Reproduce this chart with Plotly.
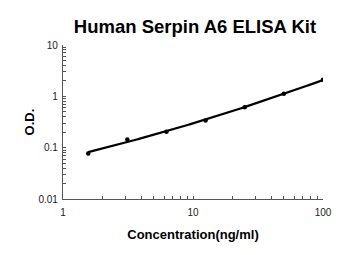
import numpy as np
import plotly.graph_objects as go

conc = [1.5625, 3.125, 6.25, 12.5, 25, 50, 100]
od = [0.077, 0.145, 0.205, 0.34, 0.61, 1.12, 2.1]

title = "Human Serpin A6 ELISA Kit"
x_title = "Concentration(ng/ml)"
y_title = "O.D."
x_ticks = [1, 10, 100]
y_ticks = [0.01, 0.1, 1, 10]
y_ticklabels = ["0.01", "0.1", "1", "10"]

# fitted curve (quadratic in log-log space) derived from the data
lx = np.log10(conc)
ly = np.log10(od)
coef = np.polyfit(lx, ly, 2)
xf = np.logspace(np.log10(conc[0]), np.log10(conc[-1]), 200)
yf = 10 ** np.polyval(coef, np.log10(xf))

fig = go.Figure()
fig.add_trace(go.Scatter(x=xf, y=yf, mode="lines",
                         line=dict(color="black", width=2.2), hoverinfo="skip"))
fig.add_trace(go.Scatter(x=conc, y=od, mode="markers",
                         marker=dict(color="black", size=4.5)))

axis_font = dict(family="Liberation Sans, Arial, sans-serif", size=10, color="#222")
fig.update_layout(
    width=350, height=255,
    margin=dict(l=63, r=27, t=45, b=56),
    plot_bgcolor="white", paper_bgcolor="white",
    showlegend=False,
    title=dict(text="<b>" + title + "</b>", x=0.557, xanchor="center",
               y=0.895, yanchor="middle",
               font=dict(family="Liberation Sans, Arial, sans-serif", size=18.5, color="black")),
    xaxis=dict(type="log", range=[0, 2], tickvals=x_ticks, ticktext=[str(v) for v in x_ticks],
               showline=True, linecolor="#555", linewidth=1.2, showgrid=False, zeroline=False,
               ticks="inside", ticklen=3, tickcolor="#555", tickfont=axis_font,
               ticklabelstandoff=4,
               minor=dict(ticks="inside", ticklen=3, tickcolor="#555", dtick="D1", showgrid=False),
               title=dict(text="<b>" + x_title + "</b>", standoff=12,
                          font=dict(family="Liberation Sans, Arial, sans-serif", size=13, color="black"))),
    yaxis=dict(type="log", range=[-2, 1], tickvals=y_ticks, ticktext=y_ticklabels,
               showline=True, linecolor="#555", linewidth=1.2, showgrid=False, zeroline=False,
               ticks="inside", ticklen=3, tickcolor="#555", tickfont=axis_font,
               ticklabelstandoff=2,
               minor=dict(ticks="inside", ticklen=3, tickcolor="#555", dtick="D1", showgrid=False),
               title=dict(text="<b>" + y_title + "</b>", standoff=0,
                          font=dict(family="Liberation Sans, Arial, sans-serif", size=13, color="black"))),
)
fig.write_html("out.html")
